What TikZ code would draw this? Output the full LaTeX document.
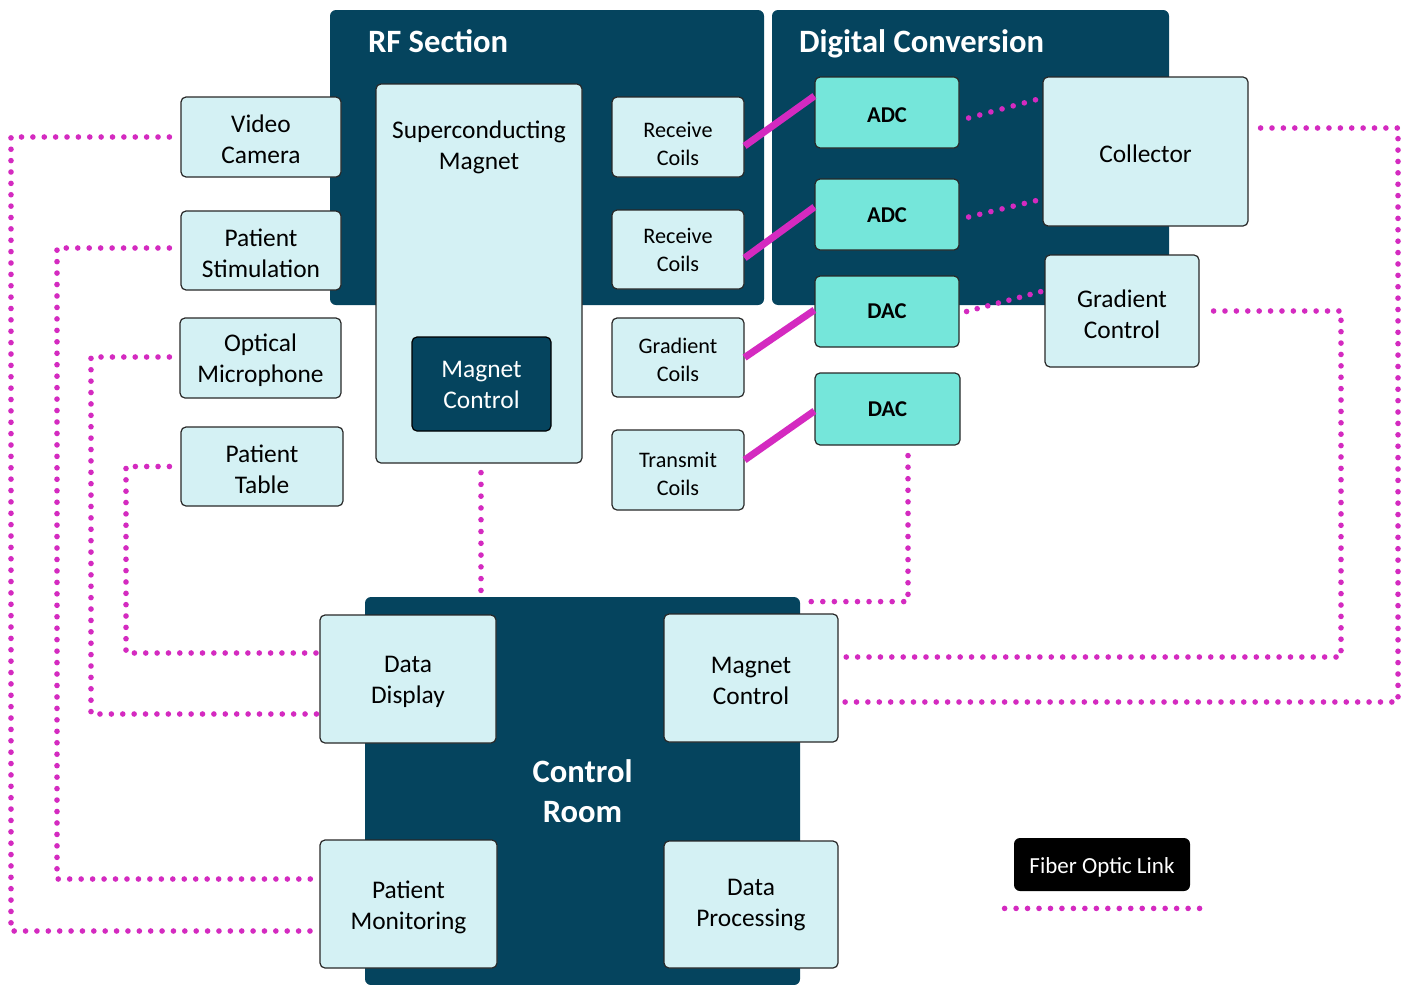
\documentclass[tikz,border=0pt]{standalone}
\usepackage{fontspec}
\setmainfont{Carlito}
\definecolor{navy}{RGB}{5,68,94}
\definecolor{lightc}{RGB}{212,241,244}
\definecolor{tealc}{RGB}{117,230,218}
\definecolor{magc}{RGB}{212,42,192}
\definecolor{edgec}{RGB}{40,40,40}
% #1 style, #2 x1, #3 y1, #4 x2, #5 y2 (pixels), #6 name, #7 text, #8 text drop (pt)
\newcommand\mybox[8]{\node[#1, minimum width={(#4-#2)/2}, minimum height={(#5-#3)/2}] (#6) at ({(#2+#4)/2},{(#3+#5)/2}) {};
 \node[#1, draw=none, fill=none, minimum size=0pt] (#6t) at ([yshift=-#8]#6.center) {#7};}
\begin{document}
\begin{tikzpicture}[x=0.5pt,y=-0.5pt,
 panel/.style={fill=navy, draw=none, rounded corners=3pt, inner sep=0pt},
 title/.style={text=white, font=\bfseries\fontsize{16.3}{20}\selectfont, anchor=west, inner sep=0pt},
 box/.style={fill=lightc, draw=edgec, line width=0.6pt, rounded corners=2.5pt, inner sep=0pt, align=center, font=\fontsize{12.7}{15.5}\selectfont},
 coil/.style={box, font=\fontsize{11.1}{14}\selectfont},
 conv/.style={box, fill=tealc, font=\bfseries\fontsize{11.3}{14}\selectfont},
 dark/.style={box, fill=navy, draw=black, text=white},
 legend/.style={fill=black, rounded corners=3pt, inner sep=0pt, text=white, font=\fontsize{11.5}{14}\selectfont},
 roomtext/.style={panel, text=white, font=\bfseries\fontsize{16.3}{20}\selectfont, align=center},
 fiber/.style={draw=magc, line width=2.8pt, line cap=round, dash pattern=on 0pt off #1},
 fiber/.default=5.7pt,
 wire/.style={draw=magc, line width=3.5pt},
]
\useasboundingbox (0,0) rectangle (1408,985);
\clip (0,0) rectangle (1408,985);
\fill[white] (0,0) rectangle (1408,985);
% panels
\mybox{panel}{330}{10}{764}{305}{rf}{}{0pt}
\mybox{panel}{772}{10}{1169}{305}{dc}{}{0pt}
\mybox{roomtext}{365}{597}{800}{985}{cr}{Control\\Room}{0pt}
\node[title] (rft) at ([xshift=19pt,yshift=-16pt]rf.north west) {RF Section};
\node[title] (dct) at ([xshift=13.5pt,yshift=-17pt]dc.north west) {Digital Conversion};
% left boxes
\mybox{box}{181}{97}{341}{177}{vc}{Video\\Camera}{1.25pt}
\mybox{box}{181}{211}{341}{290}{ps}{Patient\\Stimulation}{1.25pt}
\mybox{box}{180}{318}{341}{398}{om}{Optical\\Microphone}{1.25pt}
\mybox{box}{181}{427}{343}{506}{pt}{Patient\\Table}{1.25pt}
% RF section
\mybox{box}{376}{84}{582}{463}{sm}{}{0pt}
\node[anchor=center, align=center, inner sep=0pt, font=\fontsize{12.7}{15.5}\selectfont] (smt) at ([yshift=-32pt]sm.north) {Superconducting\\Magnet};
\mybox{dark}{412}{337}{551}{431}{mcr}{Magnet\\Control}{0.5pt}
\mybox{coil}{612}{97}{744}{177}{rc1}{Receive\\Coils}{3.5pt}
\mybox{coil}{612}{210}{744}{289}{rc2}{Receive\\Coils}{0pt}
\mybox{coil}{612}{318}{744}{397}{gc}{Gradient\\Coils}{1pt}
\mybox{coil}{612}{430}{744}{510}{tc}{Transmit\\Coils}{2pt}
% converters
\mybox{conv}{815}{77}{959}{148}{adc1}{ADC}{1.5pt}
\mybox{conv}{815}{179}{959}{250}{adc2}{ADC}{0.5pt}
\mybox{conv}{815}{276}{959}{347}{dac1}{DAC}{0pt}
\mybox{conv}{815}{373}{960}{445}{dac2}{DAC}{0pt}
\mybox{box}{1043}{77}{1248}{226}{col}{Collector}{1.25pt}
\mybox{box}{1045}{255}{1199}{367}{gcl}{Gradient\\Control}{1.5pt}
% control room
\mybox{box}{320}{615}{496}{743}{dd}{Data\\Display}{1.5pt}
\mybox{box}{664}{614}{838}{742}{mcc}{Magnet\\Control}{1.25pt}
\mybox{box}{320}{840}{497}{968}{pm}{Patient\\Monitoring}{1.5pt}
\mybox{box}{664}{841}{838}{968}{dp}{Data\\Processing}{0.5pt}
% legend
\mybox{legend}{1014}{838}{1190}{891}{leg}{Fiber Optic Link}{1.25pt}
% solid links
\draw[wire] ([yshift=-4.5pt]rc1.east) -- ([yshift=8.25pt]adc1.west);
\draw[wire] ([yshift=-4.25pt]rc2.east) -- ([yshift=3.75pt]adc2.west);
\draw[wire] (gc.east) -- ([yshift=0.75pt]dac1.west);
\draw[wire] ([yshift=5pt]tc.east) -- ([yshift=-1pt]dac2.west);
% fiber links
\draw[fiber=5.775pt] ([xshift=4.5pt,yshift=-2.75pt]adc1.east) -- ([xshift=-2.5pt,yshift=26.1pt]col.west);
\draw[fiber=5.735pt] ([xshift=4.5pt,yshift=-1.25pt]adc2.east) -- ([xshift=-2.5pt,yshift=-24.4pt]col.west);
\draw[fiber=5.475pt] ([xshift=3.5pt]dac1.east) -- ([xshift=-1pt,yshift=9.9pt]gcl.west);
\draw[fiber=5.695pt] ([xshift=6pt,yshift=11.75pt]col.east) -| (1398,702) -- ([xshift=2pt,yshift=-12pt]mcc.east);
\draw[fiber=5.695pt] ([xshift=7pt]gcl.east) -| (1341,657) -- ([xshift=2pt,yshift=10.5pt]mcc.east);
\draw[fiber=5.78pt] ([xshift=10.25pt,yshift=-5pt]dac2.south) |- ([xshift=4.5pt,yshift=-2.5pt]cr.north east);
\draw[fiber=5.89pt] ([xshift=1pt,yshift=-4.5pt]sm.south) -- ++(0,121);
\draw[fiber=5.688pt] ([xshift=-5.5pt]vc.west) -| (11,931) -- ([xshift=-3.5pt,yshift=-13.5pt]pm.west);
\draw[fiber=5.728pt] ([xshift=-5.5pt,yshift=1.25pt]ps.west) -| (57,879) -- ([xshift=-3.5pt,yshift=12.5pt]pm.west);
\draw[fiber=5.697pt] ([xshift=-5pt,yshift=0.5pt]om.west) -| (91,714) -- ([xshift=-0.5pt,yshift=-17.5pt]dd.west);
\draw[fiber=5.674pt] ([xshift=-5.5pt]pt.west) -| (126,653) -- ([xshift=-0.5pt,yshift=13pt]dd.west);
\draw[fiber=5.734pt] ([xshift=-4.5pt,yshift=-8.5pt]leg.south west) -- ([xshift=6.5pt,yshift=-8.5pt]leg.south east);
\end{tikzpicture}
\end{document}
